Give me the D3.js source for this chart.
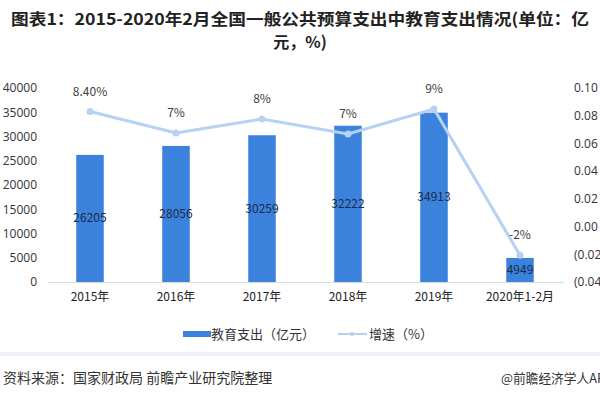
<!DOCTYPE html>
<html>
<head>
<meta charset="utf-8">
<script src="https://cdn.jsdelivr.net/npm/d3@7"></script>
<style>
  body { margin: 0; background: #fff; }
  text { font-family: "Noto Sans CJK SC", "Noto Sans", sans-serif; }
</style>
</head>
<body>
<div id="chart"></div>
<script>
// data
var years = ['2015年', '2016年', '2017年', '2018年', '2019年', '2020年1-2月'];
var spend = [26205, 28056, 30259, 32222, 34913, 4949];
var growth = [0.083, 0.0675, 0.0776, 0.0668, 0.0848, -0.0207];
var growthLabels = ['8.40%', '7%', '8%', '7%', '9%', '-2%'];
var leftTicks = [0, 5000, 10000, 15000, 20000, 25000, 30000, 35000, 40000];
var rightTicks = [-0.04, -0.02, 0, 0.02, 0.04, 0.06, 0.08, 0.10];

var W = 600, H = 400;
var plot = { left: 47, right: 563, top: 88, bottom: 282 };

var svg = d3.select('#chart').append('svg')
    .attr('width', W)
    .attr('height', H);

// title
svg.append('text')
    .attr('x', 300).attr('y', 25)
    .attr('text-anchor', 'middle')
    .attr('textLength', 578).attr('lengthAdjust', 'spacingAndGlyphs')
    .style('font-size', '16px').style('font-weight', 'bold').style('fill', '#222')
    .text('图表1：2015-2020年2月全国一般公共预算支出中教育支出情况(单位：亿');
svg.append('text')
    .attr('x', 300).attr('y', 48)
    .attr('text-anchor', 'middle')
    .style('font-size', '16px').style('font-weight', 'bold').style('fill', '#222')
    .text('元，%)');

var x = d3.scaleBand()
    .domain(years)
    .range([plot.left, plot.right])
    .paddingInner(0.68).paddingOuter(0.34);

var yL = d3.scaleLinear().domain([0, 40000]).range([plot.bottom, plot.top]);
var yR = d3.scaleLinear().domain([-0.04, 0.10]).range([plot.bottom, plot.top]);

// left axis
var axL = svg.append('g')
    .attr('transform', 'translate(37,0)')
    .call(d3.axisLeft(yL).tickValues(leftTicks).tickFormat(d3.format('d')).tickSize(0).tickPadding(0));
axL.select('.domain').remove();
axL.selectAll('text').style('font-size', '12px').style('fill', '#333')
    .style('font-family', '"Open Sans", "Noto Sans", sans-serif');

// right axis
var fmtR = function(d) {
  var s = Math.abs(d).toFixed(2);
  return d < 0 ? '(' + s + ')' : s;
};
var axR = svg.append('g')
    .attr('transform', 'translate(574,0)')
    .call(d3.axisRight(yR).tickValues(rightTicks).tickFormat(fmtR).tickSize(0).tickPadding(0));
axR.select('.domain').remove();
axR.selectAll('text').style('font-size', '12px').style('fill', '#333')
    .style('font-family', '"Open Sans", "Noto Sans", sans-serif');

// bars
svg.selectAll('rect.bar')
    .data(spend)
    .enter().append('rect')
    .attr('class', 'bar')
    .attr('x', function(d, i) { return x(years[i]); })
    .attr('width', x.bandwidth())
    .attr('y', function(d) { return yL(d); })
    .attr('height', function(d) { return plot.bottom - yL(d); })
    .style('fill', '#3b82dc');

// x axis
var axB = svg.append('g')
    .attr('transform', 'translate(0,' + plot.bottom + ')')
    .call(d3.axisBottom(x).tickSize(0).tickPadding(10));
axB.select('.domain').attr('stroke', '#d9d9d9');
axB.selectAll('text').style('font-size', '12px').style('fill', '#222');

// bar value labels
svg.selectAll('text.val')
    .data(spend)
    .enter().append('text')
    .attr('class', 'val')
    .attr('x', function(d, i) { return x(years[i]) + x.bandwidth() / 2; })
    .attr('y', function(d) { return (yL(d) + plot.bottom) / 2 + 4; })
    .attr('text-anchor', 'middle')
    .style('font-size', '12px').style('fill', '#1c2b48')
    .text(function(d) { return d; });

// growth line
var cx = function(d, i) { return x(years[i]) + x.bandwidth() / 2; };
var line = d3.line()
    .x(cx)
    .y(function(d) { return yR(d); });

svg.append('path')
    .datum(growth)
    .attr('d', line)
    .style('fill', 'none')
    .style('stroke', '#b6d1f2')
    .style('stroke-width', 3);

svg.selectAll('circle.pt')
    .data(growth)
    .enter().append('circle')
    .attr('class', 'pt')
    .attr('cx', cx)
    .attr('cy', function(d) { return yR(d); })
    .attr('r', 3.5)
    .style('fill', '#b6d1f2');

svg.selectAll('text.pct')
    .data(growth)
    .enter().append('text')
    .attr('class', 'pct')
    .attr('x', cx)
    .attr('y', function(d) { return yR(d) - 16; })
    .attr('text-anchor', 'middle')
    .style('font-size', '12px').style('fill', '#404040')
    .text(function(d, i) { return growthLabels[i]; });

// legend
var lg = svg.append('g');
lg.append('rect').attr('x', 183).attr('y', 331).attr('width', 28).attr('height', 6).style('fill', '#3b82dc');
lg.append('text').attr('x', 211).attr('y', 339).style('font-size', '13px').style('fill', '#333').text('教育支出（亿元）');
lg.append('line').attr('x1', 338).attr('x2', 367).attr('y1', 334).attr('y2', 334)
    .style('stroke', '#b6d1f2').style('stroke-width', 2);
lg.append('circle').attr('cx', 352).attr('cy', 334).attr('r', 2).style('fill', '#b6d1f2');
lg.append('text').attr('x', 369).attr('y', 339).style('font-size', '13px').style('fill', '#333').text('增速（%）');

// footer
svg.append('rect').attr('x', 0).attr('y', 352).attr('width', W).attr('height', 4).style('fill', '#eef2f8');
svg.append('text').attr('x', 3).attr('y', 383)
    .style('font-size', '14px').style('fill', '#333')
    .text('资料来源：国家财政局 前瞻产业研究院整理');
svg.append('text').attr('x', 501).attr('y', 383)
    .style('font-size', '13px').style('fill', '#333')
    .attr('textLength', 112).attr('lengthAdjust', 'spacingAndGlyphs')
    .text('@前瞻经济学人APP');
</script>
</body>
</html>
